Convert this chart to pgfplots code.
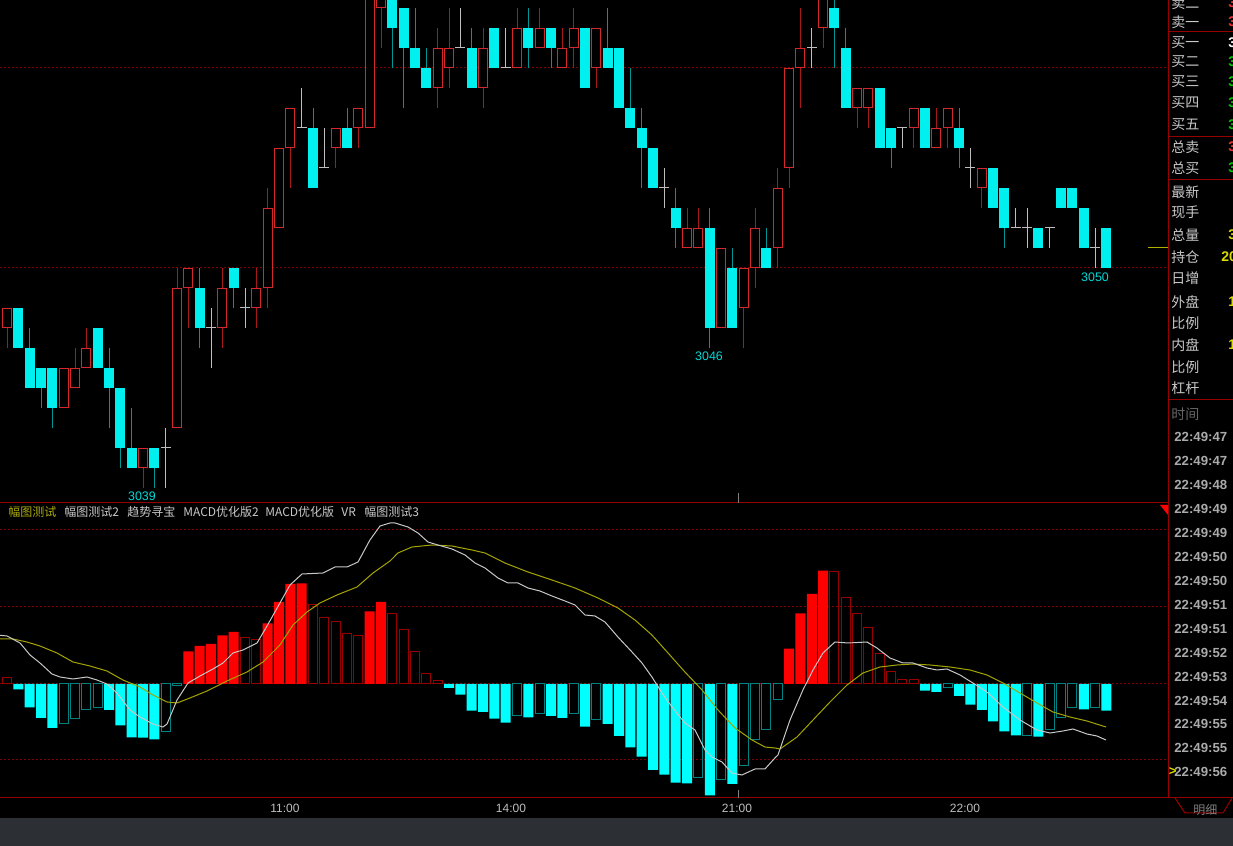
\documentclass[border=0pt]{standalone}
\usepackage{pgfplots}
\pgfplotsset{compat=1.18}
\usepackage{pgfplotstable}
\usepackage{fontspec}
\setmainfont{Liberation Sans}
\newfontfamily\cjk{Noto Sans CJK SC}

\definecolor{candred}{RGB}{214,40,40}
\definecolor{wickred}{RGB}{170,25,25}
\definecolor{candcyan}{RGB}{0,240,240}
\definecolor{wickcyan}{RGB}{0,150,150}
\definecolor{dojigray}{RGB}{190,190,190}
\definecolor{gridred}{RGB}{130,0,0}
\definecolor{framered}{RGB}{150,0,0}
\definecolor{barred}{RGB}{255,0,0}
\definecolor{barredh}{RGB}{150,0,0}
\definecolor{barcyan}{RGB}{0,255,255}
\definecolor{barcyanh}{RGB}{0,130,130}
\definecolor{difwhite}{RGB}{200,200,200}
\definecolor{deayellow}{RGB}{165,165,0}
\definecolor{txtgray}{RGB}{200,200,200}
\definecolor{timegray}{RGB}{170,170,170}
\definecolor{bandgray}{RGB}{44,47,52}
\definecolor{qgreen}{RGB}{0,200,0}
\definecolor{qred}{RGB}{235,50,50}
\definecolor{qyellow}{RGB}{220,220,0}

% candles: index, open, high, low, close
\pgfplotstableread{
i o h l c
0 3047 3048 3046 3048
5 3043 3045 3043 3045
6 3044 3046 3044 3045
7 3045 3047 3045 3046
12 3040 3041 3039 3041
15 3042 3050 3042 3049
16 3049 3050 3047 3050
19 3047 3050 3046 3049
22 3048 3050 3047 3049
23 3049 3054 3048 3053
24 3052 3056 3052 3056
25 3056 3058 3054 3058
29 3056 3057 3055 3057
31 3057 3058 3056 3058
32 3057 3065 3057 3065
33 3063 3065 3061 3065
38 3059 3062 3058 3061
39 3060 3063 3059 3061
42 3059 3062 3058 3061
45 3060 3063 3060 3062
47 3061 3063 3061 3062
49 3060 3062 3060 3061
50 3061 3063 3060 3062
52 3060 3062 3059 3062
60 3051 3053 3051 3052
61 3051 3053 3051 3052
63 3047 3051 3047 3051
65 3048 3050 3046 3050
66 3050 3053 3049 3052
68 3051 3055 3050 3054
69 3055 3060 3054 3060
70 3060 3063 3058 3061
72 3062 3065 3061 3065
75 3058 3059 3057 3059
76 3058 3059 3057 3059
80 3057 3058 3056 3058
82 3056 3058 3056 3057
83 3057 3058 3056 3058
86 3054 3055 3053 3055
}\upT

\pgfplotstableread{
i o h l c
1 3048 3048 3046 3046
2 3046 3047 3044 3044
3 3045 3045 3043 3044
4 3045 3045 3042 3043
8 3047 3047 3045 3045
9 3045 3046 3042 3044
10 3044 3044 3040 3041
11 3041 3043 3040 3040
13 3041 3041 3039 3040
17 3049 3050 3046 3047
20 3050 3050 3048 3049
27 3057 3058 3054 3054
30 3057 3058 3056 3056
34 3065 3065 3060 3062
35 3063 3063 3058 3061
36 3061 3063 3060 3060
37 3060 3061 3059 3059
41 3061 3062 3059 3059
43 3062 3062 3060 3060
46 3062 3063 3060 3061
48 3062 3062 3060 3061
51 3062 3062 3059 3059
53 3061 3063 3060 3060
54 3061 3061 3058 3058
55 3058 3060 3057 3057
56 3057 3058 3054 3056
57 3056 3056 3054 3054
59 3053 3054 3051 3052
62 3052 3053 3046 3047
64 3050 3051 3047 3047
67 3051 3052 3050 3050
73 3063 3065 3060 3062
74 3061 3062 3058 3058
77 3059 3059 3056 3056
78 3057 3057 3055 3056
81 3058 3058 3056 3056
84 3057 3058 3055 3056
87 3055 3055 3053 3053
88 3054 3054 3051 3052
91 3052 3052 3051 3051
93 3054 3054 3053 3053
94 3054 3054 3053 3053
95 3053 3053 3051 3051
97 3052 3052 3050 3050
}\downT

\pgfplotstableread{
i o h l c
14 3041 3042 3039 3041
18 3047 3048 3045 3047
21 3048 3049 3047 3048
26 3057 3059 3057 3057
28 3055 3057 3055 3055
40 3061 3063 3061 3061
44 3060 3062 3060 3060
58 3054 3055 3053 3054
71 3061 3062 3060 3061
79 3057 3057 3056 3057
85 3055 3056 3054 3055
89 3052 3053 3052 3052
90 3052 3053 3051 3052
92 3052 3052 3051 3052
96 3051 3052 3050 3051
}\dojiT

% MACD histogram, split by colour / fill
\pgfplotstableread{
i v
16 32.7
17 38
18 40
19 48.7
20 52
23 60.7
24 82
25 100
26 100.7
32 72.7
33 82
69 35.3
70 70.7
71 90
72 113.3
}\rfT
\pgfplotstableread{
i v
0 6.7
21 46
22 44.7
27 79.7
28 66.7
29 62.7
30 50.7
31 48.7
34 70.7
35 54
36 32.7
37 10.7
38 3.7
73 112.7
74 86.7
75 70.7
76 56.7
77 30.7
78 12.7
79 4.7
80 4.7
}\rhT
\pgfplotstableread{
i v
1 -5.3
2 -23.3
3 -34
4 -44
9 -26
10 -41.3
11 -53.3
12 -53.6
13 -55.3
39 -4
40 -10.7
41 -26.7
42 -28
43 -34.7
44 -38.7
46 -33.3
48 -32
49 -34
51 -42.7
53 -40
54 -52
55 -63.3
56 -72.7
57 -86
58 -90.7
59 -98.7
60 -99.3
62 -111.3
64 -100
81 -6.7
82 -8
84 -12
85 -20.7
86 -26
87 -37.3
88 -47.3
89 -51.3
91 -52.7
95 -25.3
97 -26.7
}\cfT
\pgfplotstableread{
i v
5 -39.3
6 -34.7
7 -25.3
8 -23.3
14 -48
15 -2
45 -32
47 -29.3
50 -30
52 -35.3
61 -94
63 -96
65 -82
66 -56
67 -45.3
68 -15.3
83 -4
90 -51.3
92 -46
93 -33.3
94 -23.3
96 -24
}\chT

\pgfplotstableread{
x y
-0.62 48.7
0 48
1.15 41
2.03 29
2.91 21
3.97 10
4.68 7
5.82 5
7.06 7
7.94 4
8.82 0
9.70 -9
10.85 -26
11.73 -33
12.88 -40
13.76 -43
14.12 -40
15.0 -16
15.97 1
17.03 8
18.17 15
19.06 21
19.94 31
20.82 34
22.06 41
22.94 58
24.08 81
24.97 99
26.03 110
27.88 111
28.94 117
30.0 117
30.97 122
32.02 144
32.91 158
33.79 161
34.23 161
35.38 157
36.26 151
37.14 142
38.02 139
39.26 135
40.41 129
41.29 121
42.17 116
43.32 106
44.20 101
45.08 101
45.96 96
47.02 93
48.08 88
49.23 83
50.11 79
50.99 69
51.87 68
52.76 62
53.90 47
55.14 32
56.02 21
56.90 7
57.79 -9
58.67 -23
59.81 -39
60.70 -46
61.58 -66
62.20 -73
63.08 -78
63.96 -89
64.84 -91
65.99 -85
66.87 -85
67.75 -74
68.02 -71
69.08 -36
70.22 -6
71.11 14
71.99 31
73.05 42
74.19 41
75.87 42
76.75 36
77.90 26
79.05 21
79.93 21
81.16 16
82.05 14
82.93 15
84.08 9
85.22 1
86.46 -8
87.87 -23
89.37 -36
90.87 -46
92.02 -49
93.16 -47
94.05 -45
95.28 -50
96.16 -52
96.96 -56
}\difT

\pgfplotstableread{
x y
-0.62 45
0.53 45
1.76 42
2.91 38
4.41 31
5.82 22
7.32 18
8.82 13
10.23 4
11.73 -3
12.88 -11
14.12 -18
15.0 -19
16.14 -14
17.64 -7
19.41 3
21.17 12
22.59 22
24.08 39
25.23 59
26.47 72
27.61 81
29.11 89
30.88 97
32.29 111
33.79 123
34.49 131
35.73 137
37.49 139
39.26 138
41.02 134
42.17 131
43.93 121
45.96 112
48.08 104
50.11 96
52.14 86
53.90 76
55.40 64
56.90 49
58.32 31
59.81 12
61.32 -6
62.73 -26
64.23 -44
65.73 -56
66.87 -63
67.75 -64
68.20 -65
69.70 -53
71.11 -36
72.61 -18
74.11 -1
75.52 11
77.02 17
78.52 19
79.93 20
81.43 19
83.19 17
84.96 14
86.46 9
87.87 1
89.37 -9
90.87 -19
92.28 -28
93.78 -33
95.28 -37
96.96 -43
}\deaT

% a candle part: vertical error bar of given colour, width and direction; no line, no marker
\pgfplotsset{
  candle part/.style n args={3}{draw=none, mark=none, forget plot,
    error bars/y dir=#3, error bars/y explicit, error bars/error mark=none,
    error bars/error bar style={draw=#1, line width=#2, line cap=butt}},
}

\begin{document}
\begin{tikzpicture}
\useasboundingbox (0,0) rectangle (616.5pt,423pt);
\fill[black] (0,0) rectangle (616.5pt,423pt);
\fill[bandgray] (0,0) rectangle (616.5pt,14pt);

% ---- price panel ----
\begin{axis}[
  at={(0pt,171.5pt)}, anchor=south west,
  scale only axis, width=584pt, height=251.5pt,
  xmin=-0.618, xmax=102.43, ymin=3038.25, ymax=3063.4,
  axis line style={draw=none}, tick style={draw=none},
  xtick=\empty, ytick={3050,3060}, yticklabels={},
  ymajorgrids, grid style={gridred, line width=0.5pt, dash pattern=on 1pt off 1pt},
]
% wicks
\addplot[candle part={wickred}{0.5pt}{both}]
  table[x=i, y=o, y error plus expr=\thisrow{h}-\thisrow{o}, y error minus expr=\thisrow{o}-\thisrow{l}] {\upT};
\addplot[candle part={wickcyan}{0.5pt}{both}]
  table[x=i, y=o, y error plus expr=\thisrow{h}-\thisrow{o}, y error minus expr=\thisrow{o}-\thisrow{l}] {\downT};
\addplot[candle part={dojigray}{0.5pt}{both}]
  table[x=i, y=o, y error plus expr=\thisrow{h}-\thisrow{o}, y error minus expr=\thisrow{o}-\thisrow{l}] {\dojiT};
% doji cross bar: short horizontal error bar
\addplot[draw=none, mark=none, forget plot, error bars/.cd, x dir=both, x fixed=0.44, error mark=none,
  error bar style={draw=dojigray, line width=0.5pt}]
  table[x=i, y=o] {\dojiT};
% bodies
\addplot[candle part={candred}{5pt}{plus}]
  table[x=i, y=o, y error plus expr=\thisrow{c}-\thisrow{o}] {\upT};
\addplot[candle part={black}{4pt}{plus}]
  table[x=i, y expr=\thisrow{o}+0.05, y error plus expr=\thisrow{c}-\thisrow{o}-0.1] {\upT};
\addplot[candle part={candcyan}{5pt}{plus}]
  table[x=i, y=c, y error plus expr=\thisrow{o}-\thisrow{c}] {\downT};
\end{axis}

% ---- MACD panel ----
\begin{axis}[
  at={(0pt,24pt)}, anchor=south west,
  scale only axis, width=584pt, height=147.5pt,
  xmin=-0.618, xmax=102.43, ymin=-114, ymax=181,
  axis line style={draw=none}, tick style={draw=none},
  xtick=\empty, ytick={-76,0,77,154}, yticklabels={},
  ymajorgrids, grid style={gridred, line width=0.5pt, dash pattern=on 1pt off 1pt},
]
\addplot[ybar, bar width=5pt, bar shift=0pt, fill=barred, draw=none] table[x=i, y=v] {\rfT};
\addplot[ybar, bar width=4.5pt, bar shift=0pt, fill=none, draw=barredh, line width=0.5pt] table[x=i, y=v] {\rhT};
\addplot[ybar, bar width=5pt, bar shift=0pt, fill=barcyan, draw=none] table[x=i, y=v] {\cfT};
\addplot[ybar, bar width=4.5pt, bar shift=0pt, fill=none, draw=barcyanh, line width=0.5pt] table[x=i, y=v] {\chT};
\addplot[deayellow, line width=0.5pt, mark=none] table[x=x, y=y] {\deaT};
\addplot[difwhite, line width=0.5pt, mark=none] table[x=x, y=y] {\difT};
\end{axis}

% ---- frame, labels and side panel (pixel units, y up from bottom) ----
\begin{scope}[x=0.5pt, y=0.5pt]
\draw[framered, line width=0.5pt] (0,343) -- (1168,343);
\draw[framered, line width=0.5pt] (1168,846) -- (1168,48);
\draw[framered, line width=0.5pt] (0,48) -- (1233,48);
\foreach \yy in {814,709,666,446} \draw[framered, line width=0.5pt] (1168,\yy) -- (1233,\yy);
\draw[framered, line width=0.5pt] (1175,48) -- (1185,33) -- (1223,33) -- (1232,48);
\fill[red] (1160,341) -- (1168,341) -- (1168,331) -- cycle;
\draw[qyellow!80!black, line width=0.5pt] (1148,598) -- (1168,598);
\draw[gray, line width=0.5pt] (738,353) -- (738,343);
\draw[gray, line width=0.5pt] (738,56) -- (738,48);

% price labels
\begin{scope}[every node/.style={text=candcyan!90!black, font=\fontsize{6.2pt}{7pt}\selectfont, inner sep=0pt}]
\node at (142,350) {3039};
\node at (709,490) {3046};
\node at (1095,569) {3050};
\end{scope}

% time axis
\foreach \xx/\tt in {285/11:00, 511/14:00, 737/21:00, 965/22:00}
  \node[text=txtgray!95!black, font=\fontsize{6pt}{7pt}\selectfont, inner sep=0pt] at (\xx,38) {\tt};

% sub-panel tabs
\begin{scope}[every node/.style={anchor=west, inner sep=0pt, font=\fontsize{6pt}{7pt}\cjk}]
\node[text=deayellow!95!white] at (8,334) {幅图测试};
\node[text=txtgray] at (64,334) {幅图测试2};
\node[text=txtgray] at (127,334) {趋势寻宝};
\node[text=txtgray] at (183,334) {MACD优化版2};
\node[text=txtgray] at (265,334) {MACD优化版};
\node[text=txtgray] at (341,334) {VR};
\node[text=txtgray] at (364,334) {幅图测试3};
\end{scope}

% quote panel
\begin{scope}[every node/.style={anchor=west, inner sep=0pt, text=txtgray, font=\fontsize{7pt}{8pt}\cjk}]
\foreach \yy/\tt in {843/卖二, 824/卖一, 803/买一, 784/买二, 764/买三, 743/买四, 721/买五,
  699/总卖, 678/总买, 654/最新, 634/现手, 611/总量, 589/持仓, 568/日增, 544/外盘,
  523/比例, 501/内盘, 479/比例, 458/杠杆}
  \node at (1171,\yy) {\tt};
\node[text=gray!80!black] at (1171,432) {时间};
\node[text=gray, font=\fontsize{6pt}{7pt}\cjk] at (1193,36) {明细};
\end{scope}
\begin{scope}[every node/.style={anchor=west, inner sep=0pt, font=\fontsize{7pt}{8pt}\bfseries}]
\node[text=qred] at (1228,843) {3};
\node[text=qred] at (1228,824) {3};
\node[text=white] at (1228,803) {3};
\foreach \yy in {784,764,743,721} \node[text=qgreen] at (1228,\yy) {3};
\node[text=qred] at (1228,699) {3};
\node[text=qgreen] at (1228,678) {3};
\node[text=qyellow] at (1228,611) {3};
\node[text=qyellow] at (1221,589) {20};
\node[text=qyellow] at (1228,544) {1};
\node[text=qyellow] at (1228,501) {1};
\end{scope}
\begin{scope}[every node/.style={anchor=west, inner sep=0pt, text=timegray, font=\fontsize{6.6pt}{7pt}\bfseries}]
\foreach \yy/\tt in {409/22:49:47, 385/22:49:47, 361/22:49:48, 337/22:49:49, 313/22:49:49,
  289/22:49:50, 265/22:49:50, 241/22:49:51, 217/22:49:51, 193/22:49:52, 169/22:49:53,
  145/22:49:54, 122/22:49:55, 98/22:49:55, 74/22:49:56}
  \node at (1174,\yy) {\tt};
\node[text=qyellow] at (1168.5,74) {>};
\end{scope}
\end{scope}
\end{tikzpicture}
\end{document}
